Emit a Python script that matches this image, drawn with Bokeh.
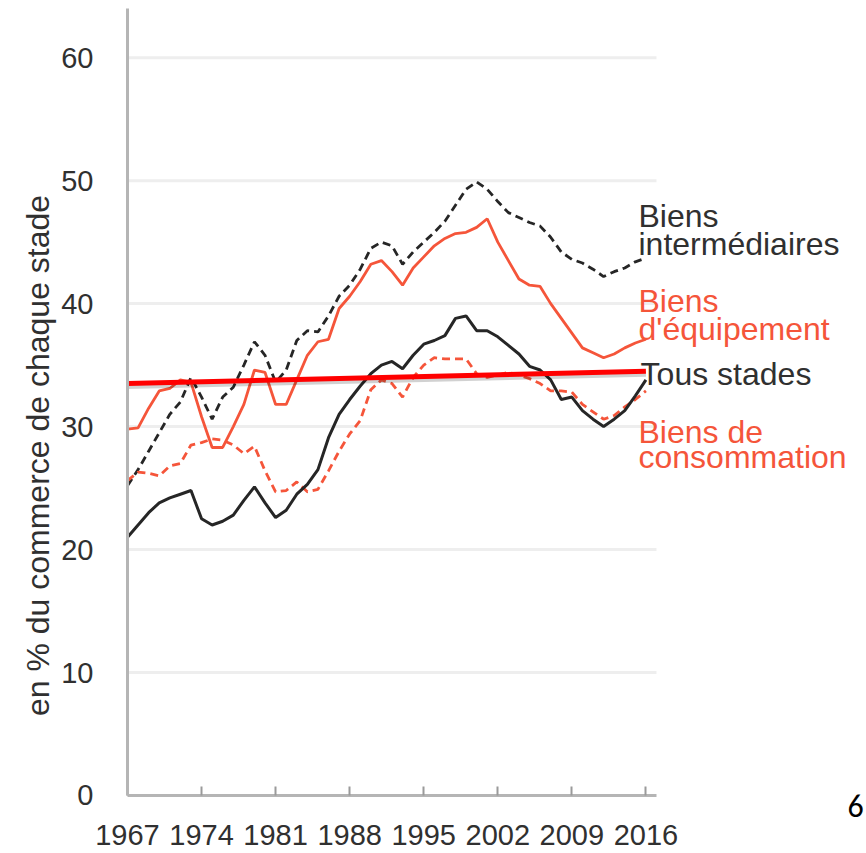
import math
from bokeh.plotting import figure
from bokeh.models import Range1d, FixedTicker, Label
from bokeh.embed import file_html
from bokeh.resources import INLINE

years = list(range(1967, 2017))

tous_stades = [21.0, 22.0, 23.0, 23.8, 24.2, 24.5, 24.8, 22.5, 22.0, 22.3,
               22.8, 24.0, 25.1, 23.8, 22.6, 23.2, 24.5, 25.3, 26.5, 29.1,
               31.0, 32.2, 33.3, 34.3, 35.0, 35.3, 34.7, 35.8, 36.7, 37.0,
               37.4, 38.8, 39.0, 37.8, 37.8, 37.3, 36.6, 35.9, 34.9, 34.6,
               33.8, 32.2, 32.4, 31.3, 30.6, 30.0, 30.6, 31.3, 32.5, 33.8]

biens_intermediaires = [25.2, 26.5, 28.0, 29.5, 31.0, 32.0, 34.0, 32.4, 30.6, 32.4,
                        33.2, 35.0, 36.9, 35.8, 33.6, 34.6, 37.0, 37.8, 37.7, 39.0,
                        40.6, 41.5, 42.8, 44.5, 45.0, 44.7, 43.2, 44.2, 45.0, 45.8,
                        46.7, 48.0, 49.3, 49.9, 49.3, 48.3, 47.4, 47.0, 46.6, 46.3,
                        45.4, 44.2, 43.6, 43.3, 42.8, 42.2, 42.6, 42.9, 43.4, 43.7]

biens_equipement = [29.8, 29.9, 31.5, 32.9, 33.1, 33.8, 33.6, 30.8, 28.3, 28.3,
                    30.0, 31.8, 34.6, 34.4, 31.8, 31.8, 33.8, 35.8, 36.9, 37.1,
                    39.6, 40.6, 41.8, 43.2, 43.5, 42.6, 41.5, 42.9, 43.8, 44.7,
                    45.3, 45.7, 45.8, 46.2, 46.9, 45.0, 43.5, 42.0, 41.5, 41.4,
                    40.0, 38.8, 37.6, 36.4, 36.0, 35.6, 35.9, 36.4, 36.8, 37.1]

biens_consommation = [25.6, 26.3, 26.2, 26.0, 26.8, 27.0, 28.5, 28.7, 29.0, 28.9,
                      28.5, 27.8, 28.4, 26.4, 24.7, 24.8, 25.5, 24.7, 24.9, 26.4,
                      28.0, 29.4, 30.5, 33.0, 33.8, 33.5, 32.4, 34.0, 35.0, 35.6,
                      35.5, 35.5, 35.5, 34.3, 34.0, 34.2, 34.4, 34.2, 33.9, 33.5,
                      32.9, 32.9, 32.8, 31.8, 31.2, 30.6, 30.9, 31.6, 32.2, 32.9]

trend_years = [1967, 2016]
trend_values = [33.5, 34.5]

x_ticks = [1967, 1974, 1981, 1988, 1995, 2002, 2009, 2016]
y_ticks = [0, 10, 20, 30, 40, 50, 60]
x_bounds = (1967, 2017)
y_bounds = (0, 64)

y_title = "en % du commerce de chaque stade"
page_number = "6"

FONT = "'Liberation Sans', Arial, sans-serif"
BLACK = "#262626"
ORANGE = "#f5553a"
TEXT = "#303030"

p = figure(width=866, height=853, output_backend="svg", toolbar_location=None,
           x_range=Range1d(1954.996, 2036.85), y_range=Range1d(-4.717, 64.65),
           min_border=0)
p.outline_line_color = None
p.background_fill_color = "white"
p.border_fill_color = "white"

# grid lines limited to the axis extent
p.xgrid.visible = False
p.ygrid.visible = False
grid_ticks = [t for t in y_ticks if t > 0]
p.segment(x0=[x_bounds[0]] * len(grid_ticks), x1=[x_bounds[1]] * len(grid_ticks),
          y0=grid_ticks, y1=grid_ticks, line_color="#eeeeee", line_width=3)

# axes drawn at fixed locations inside the full-size frame
p.xaxis.fixed_location = 0
p.xaxis.bounds = x_bounds
p.yaxis.fixed_location = x_bounds[0]
p.yaxis.bounds = y_bounds
p.xaxis.ticker = FixedTicker(ticks=x_ticks)
p.yaxis.ticker = FixedTicker(ticks=y_ticks)
for ax in (p.xaxis[0], p.yaxis[0]):
    ax.axis_line_color = "#b5b5b5"
    ax.axis_line_width = 3
    ax.minor_tick_line_color = None
    ax.major_label_text_font = FONT
    ax.major_label_text_font_size = "29px"
    ax.major_label_text_color = TEXT

p.xaxis.major_tick_in = 9
p.xaxis.major_tick_out = 0
p.xaxis.major_tick_line_color = "#9a9a9a"
p.xaxis.major_tick_line_width = 2
p.xaxis.major_label_standoff = 30

p.yaxis.major_tick_line_color = None
p.yaxis.major_tick_in = 0
p.yaxis.major_tick_out = 0
p.yaxis.major_label_standoff = 34

# series
p.line(years, biens_intermediaires, line_color=BLACK, line_width=2.8, line_dash="8 5")
p.line(years, biens_equipement, line_color=ORANGE, line_width=2.8)
p.line(years, biens_consommation, line_color=ORANGE, line_width=2.8, line_dash="8 5")
p.line(years, tous_stades, line_color=BLACK, line_width=3)

# trend line with soft shadow
trend_shadow = [v - 0.25 for v in trend_values]
p.line(trend_years, trend_shadow, line_color="#000000", line_alpha=0.18, line_width=5)
p.line(trend_years, trend_values, line_color="#ff0000", line_width=5)

def add_text(txt, x, y, color, size="32px"):
    p.add_layout(Label(x=x, y=y, text=txt, text_color=color, text_font=FONT,
                       text_font_size=size, text_baseline="alphabetic",
                       text_align="left"))

add_text("Biens", 2015.3, 47.15, TEXT)
add_text("intermédiaires", 2015.3, 44.85, TEXT)
add_text("Biens", 2015.3, 40.25, ORANGE)
add_text("d'équipement", 2015.3, 37.95, ORANGE)
add_text("Tous stades", 2015.5, 34.25, TEXT)
add_text("Biens de", 2015.3, 29.55, ORANGE)
add_text("consommation", 2015.3, 27.55, ORANGE)

# y title
p.add_layout(Label(x=1958.5, y=27.65, text=y_title, angle=math.pi / 2,
                   text_align="center", text_baseline="alphabetic",
                   text_font=FONT, text_font_size="32px", text_color=TEXT))

# page number
p.add_layout(Label(x=2035.05, y=-0.92, text=page_number, text_align="left",
                   text_baseline="alphabetic", text_font="Carlito, 'Open Sans', sans-serif",
                   text_font_size="32px", text_color="#000000"))

open("out.html", "w").write(file_html(p, INLINE))
